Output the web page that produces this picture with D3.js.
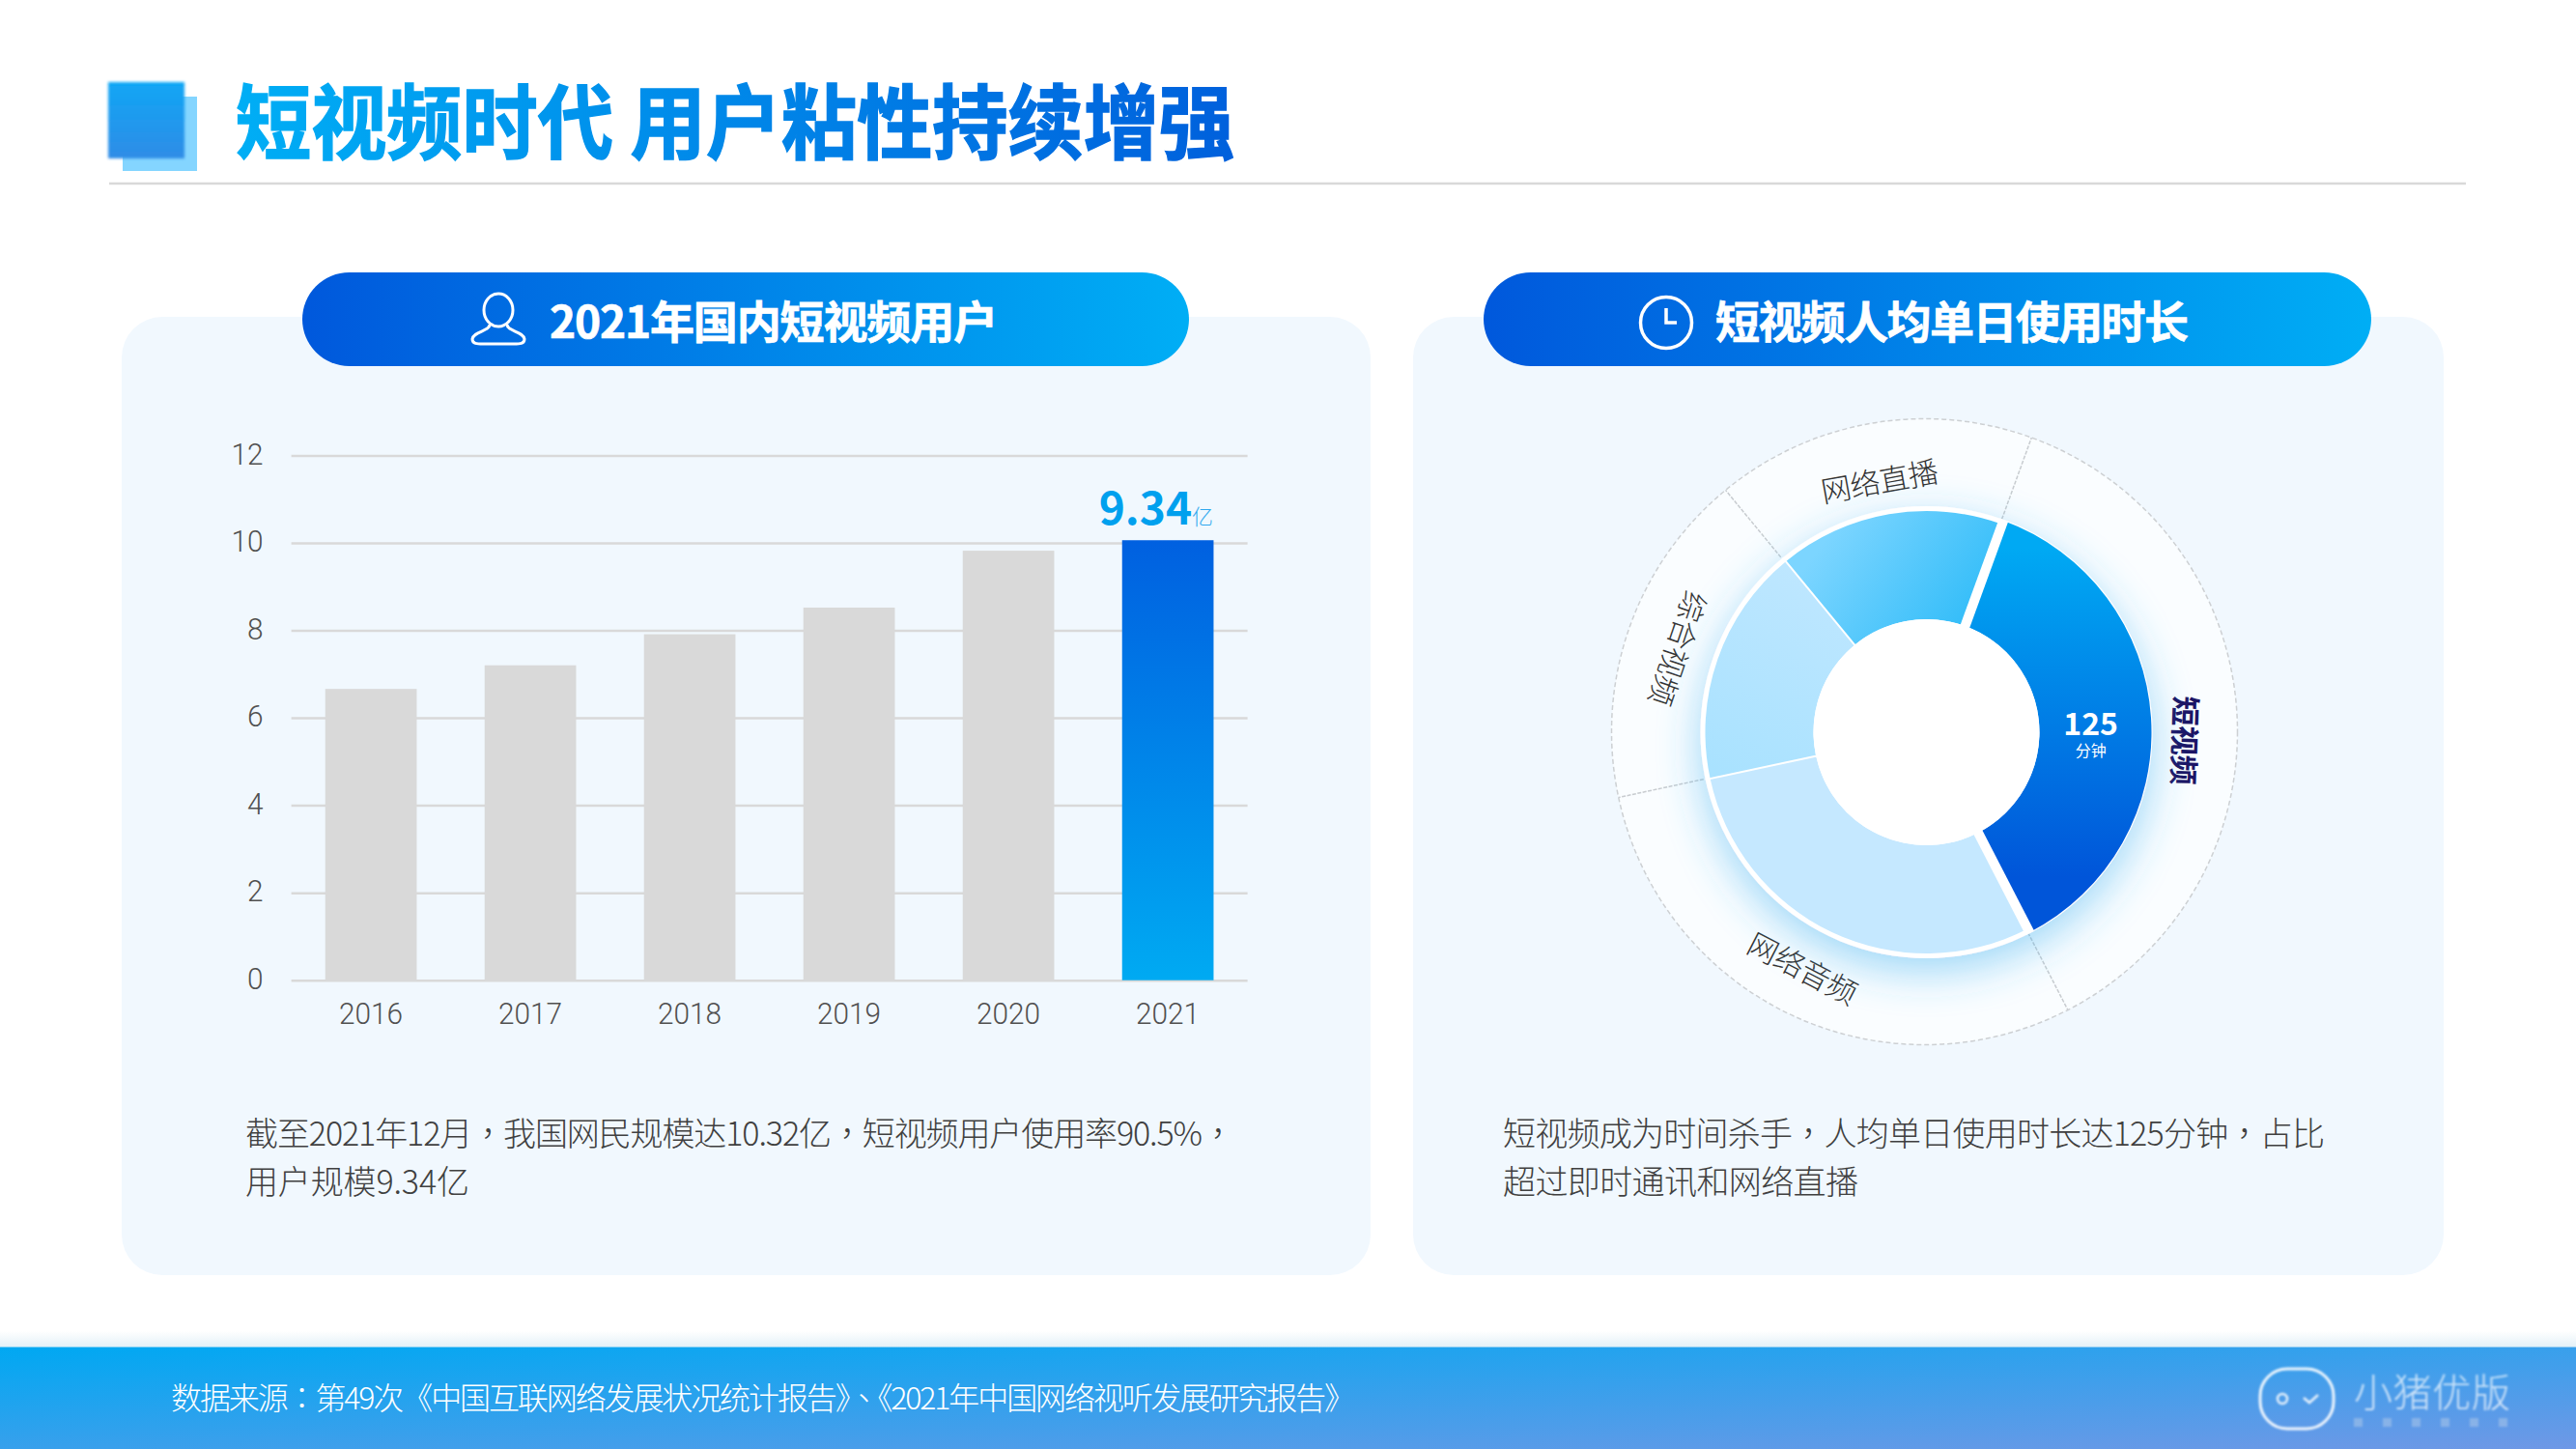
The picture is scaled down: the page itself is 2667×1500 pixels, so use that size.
<!DOCTYPE html>
<html>
<head>
<meta charset="utf-8">
<script src="https://cdn.jsdelivr.net/npm/d3@7/dist/d3.min.js"></script>
<style>
  html, body { margin: 0; padding: 0; background: #fff; }
  text { font-family: "Noto Sans CJK SC", "Noto Sans", sans-serif; }
</style>
</head>
<body>
<div id="plot"></div>
<script>
// bar chart data
const years = ["2016", "2017", "2018", "2019", "2020", "2021"];
const users = [6.66, 7.2, 7.91, 8.52, 9.82, 10.06];
const yTicks = [0, 2, 4, 6, 8, 10, 12];

const platforms = ["短视频", "网络音频", "综合视频", "网络直播"];
const minutes = [125, 99, 59, 56];

const width = 2667;
const height = 1500;
const rad = Math.PI / 180;

const svg = d3.select("#plot")
  .append("svg")
  .attr("width", width)
  .attr("height", height)
  .style("display", "block");

const defs = svg.append("defs");

function gradient(id, x1, y1, x2, y2, from, to, userSpace) {
  const g = defs.append("linearGradient")
    .attr("id", id)
    .attr("x1", x1).attr("y1", y1)
    .attr("x2", x2).attr("y2", y2);
  if (userSpace) g.attr("gradientUnits", "userSpaceOnUse");
  g.append("stop").attr("offset", 0).attr("stop-color", from);
  g.append("stop").attr("offset", 1).attr("stop-color", to);
}

gradient("titleFill", 246, 90, 1278, 165, "#00aef5", "#0060dc", true);
gradient("pillFill", 0, 0, 1, 0, "#0058dc", "#00aef5");
gradient("footFill", 0, 0, 1, 1, "#00a8f2", "#6f98e6");
gradient("footGlow", 0, 0, 0, 1, "#ffffff", "#e2f0f7");
gradient("barFill", 0, 0, 0, 1, "#0060e0", "#00aaf2");
gradient("squareFill", 0, 0, 0, 1, "#10a6f5", "#2f8ce6");
gradient("sliceShort", 60, -190, 60, 150, "#00a9f3", "#0055d9", true);
gradient("sliceGeneral", -40, -200, -180, 60, "#c4e8ff", "#a9e2ff", true);
gradient("sliceLive", -90, -220, 60, -110, "#7cd5ff", "#2dbbf8", true);

const glow = defs.append("filter")
  .attr("id", "donutGlow")
  .attr("x", "-30%").attr("y", "-30%")
  .attr("width", "160%").attr("height", "160%");
glow.append("feDropShadow")
  .attr("dx", 0).attr("dy", 14)
  .attr("stdDeviation", 22)
  .attr("flood-color", "#38aef0")
  .attr("flood-opacity", 0.48);

const soft = defs.append("filter").attr("id", "soft")
  .attr("x", "-20%").attr("y", "-20%").attr("width", "140%").attr("height", "140%");
soft.append("feGaussianBlur").attr("stdDeviation", 1.6);

const softer = defs.append("filter").attr("id", "softer")
  .attr("x", "-40%").attr("y", "-40%").attr("width", "180%").attr("height", "180%");
softer.append("feGaussianBlur").attr("stdDeviation", 0.9);

// the reference sets its punctuation centred in the cell, the TC face does that
function withPunctuation(sel, str) {
  str.split(/([，：、])/).filter(s => s).forEach(s => {
    const t = sel.append("tspan").text(s);
    if ("，：、".includes(s)) t.style("font-family", '"Noto Sans CJK TC"');
  });
}

// header
svg.append("rect").attr("x", 127).attr("y", 100).attr("width", 77).attr("height", 77)
  .attr("fill", "#84d5ff");
svg.append("rect").attr("x", 112).attr("y", 85).attr("width", 79).attr("height", 79)
  .attr("fill", "url(#squareFill)").attr("filter", "url(#soft)");
svg.append("text")
  .attr("x", 244).attr("y", 158)
  .attr("font-size", 84).attr("font-weight", 700)
  .attr("fill", "url(#titleFill)")
  .attr("stroke", "url(#titleFill)").attr("stroke-width", 1.5)
  .attr("textLength", 1034).attr("lengthAdjust", "spacingAndGlyphs")
  .text("短视频时代 用户粘性持续增强");
svg.append("line")
  .attr("x1", 113).attr("x2", 2553)
  .attr("y1", 190).attr("y2", 190)
  .attr("stroke", "#d9d9d9").attr("stroke-width", 2.5);

// cards and their title pills
const cards = [
  { x: 126, w: 1293, px: 313, pw: 918, label: "2021年国内短视频用户", tx: 569, tl: 464 },
  { x: 1463, w: 1067, px: 1536, pw: 919, label: "短视频人均单日使用时长", tx: 1776, tl: 490 }
];
cards.forEach(c => {
  svg.append("rect").attr("x", c.x).attr("y", 328).attr("width", c.w).attr("height", 992)
    .attr("rx", 42).attr("fill", "#f1f8fe");
  svg.append("rect").attr("x", c.px).attr("y", 282).attr("width", c.pw).attr("height", 97)
    .attr("rx", 48.5).attr("fill", "url(#pillFill)");
  svg.append("text")
    .attr("x", c.tx).attr("y", 350)
    .attr("font-size", 46).attr("font-weight", 700)
    .attr("fill", "#fff").attr("stroke", "#fff").attr("stroke-width", 0.7)
    .attr("textLength", c.tl).attr("lengthAdjust", "spacing")
    .text(c.label);
});

// pill icons
const person = svg.append("g")
  .attr("fill", "none").attr("stroke", "#fff").attr("stroke-width", 3);
person.append("ellipse").attr("cx", 516).attr("cy", 321).attr("rx", 15).attr("ry", 17);
person.append("path")
  .attr("d", "M507,336 C507,343 490,343 489,351 C489,356 494,356 500,356 L532,356 C538,356 543,356 543,351 C542,343 525,343 525,336");
const clock = svg.append("g")
  .attr("fill", "none").attr("stroke", "#fff").attr("stroke-width", 3.5);
clock.append("circle").attr("cx", 1725).attr("cy", 334).attr("r", 26.5);
clock.append("path").attr("d", "M1725,319 L1725,334 L1736,334");

// bar chart
const x = d3.scaleBand().domain(years).range([301.6, 1291.6]).paddingInner(0.426).paddingOuter(0.213);
const y = d3.scaleLinear().domain([0, 12]).range([1014.7, 471.4]);

const grid = svg.append("g")
  .attr("transform", "translate(301.6,0)")
  .call(d3.axisLeft(y).tickValues(yTicks).tickSize(-990).tickPadding(29));
grid.select(".domain").remove();
grid.selectAll(".tick line").attr("stroke", "#d9d9d9").attr("stroke-width", 2.5);
grid.selectAll(".tick text")
  .style("font-family", "Roboto")
  .attr("font-size", 32).attr("font-weight", 300)
  .attr("fill", "#505050")
  .attr("dy", "0.27em")
  .attr("textLength", d => String(d).length * 16.5)
  .attr("lengthAdjust", "spacingAndGlyphs");

svg.append("g")
  .selectAll("rect")
  .data(years)
  .enter()
  .append("rect")
  .attr("x", d => x(d))
  .attr("y", (d, i) => y(users[i]))
  .attr("width", x.bandwidth())
  .attr("height", (d, i) => y(0) - y(users[i]))
  .attr("fill", d => d === "2021" ? "url(#barFill)" : "#d9d9d9");

const xAxis = svg.append("g")
  .attr("transform", `translate(0,${y(0)})`)
  .call(d3.axisBottom(x).tickSize(0).tickPadding(23));
xAxis.select(".domain").remove();
xAxis.selectAll(".tick text")
  .style("font-family", "Roboto")
  .attr("font-size", 32).attr("font-weight", 300)
  .attr("fill", "#505050")
  .attr("textLength", 66)
  .attr("lengthAdjust", "spacingAndGlyphs");

const lastX = x("2021");
const callout = svg.append("text")
  .attr("x", lastX - 24).attr("y", 543)
  .attr("fill", "#00a0ee");
callout.append("tspan").attr("font-size", 46).attr("font-weight", 700).text("9.34");
callout.append("tspan").attr("font-size", 22).attr("font-weight", 300).attr("fill", "#30a8ee").text("亿");

// donut ring
const ringX = 1992.5;
const donutX = 1994.5;
const donutY = 758;
const ringR = 324;
const whiteR = 234;
const sliceR = 229;
const shortR = 233;
const holeR = 117;

const pie = d3.pie().sort(null).value(d => d.v)
  .startAngle(20 * rad).endAngle(380 * rad);
const slices = pie(platforms.map((p, i) => ({ p, v: minutes[i] })));

const ring = svg.append("g").attr("transform", `translate(${ringX},${donutY - 0.5})`);
ring.append("circle").attr("r", ringR)
  .attr("fill", "#fafdff")
  .attr("stroke", "#cdd0d3").attr("stroke-width", 1.5).attr("stroke-dasharray", "5 3");
ring.selectAll("line")
  .data(slices)
  .enter()
  .append("line")
  .attr("x1", d => whiteR * Math.sin(d.startAngle))
  .attr("y1", d => -whiteR * Math.cos(d.startAngle))
  .attr("x2", d => ringR * Math.sin(d.startAngle))
  .attr("y2", d => -ringR * Math.cos(d.startAngle))
  .attr("stroke", "#c8ccd0").attr("stroke-width", 1.5).attr("stroke-dasharray", "4 1.5");

const donut = svg.append("g").attr("transform", `translate(${donutX},${donutY})`);
donut.append("circle").attr("r", whiteR).attr("fill", "#fff").attr("filter", "url(#donutGlow)");

const sliceFill = d3.scaleOrdinal()
  .domain(platforms)
  .range(["url(#sliceShort)", "#c5e8ff", "url(#sliceGeneral)", "url(#sliceLive)"]);
const arc = d3.arc().innerRadius(holeR)
  .outerRadius(d => d.data.p === "短视频" ? shortR : sliceR);

donut.selectAll("path.slice")
  .data(slices)
  .enter()
  .append("path")
  .attr("class", "slice")
  .attr("d", arc)
  .attr("fill", d => sliceFill(d.data.p));

// white gaps: wide either side of the highlighted slice, hairline elsewhere
donut.selectAll("line.gap")
  .data(slices)
  .enter()
  .append("line")
  .attr("class", "gap")
  .attr("x1", d => (holeR - 2) * Math.sin(d.startAngle))
  .attr("y1", d => -(holeR - 2) * Math.cos(d.startAngle))
  .attr("x2", d => whiteR * Math.sin(d.startAngle))
  .attr("y2", d => -whiteR * Math.cos(d.startAngle))
  .attr("stroke", "#fff")
  .attr("stroke-width", (d, i) => (i === 0 || i === 1) ? 10 : 2);

donut.append("circle").attr("r", holeR).attr("fill", "#fff");

// value inside the highlighted slice
const valuePos = d3.arc().innerRadius(holeR).outerRadius(224).centroid(slices[0]);
donut.append("text")
  .attr("x", valuePos[0]).attr("y", valuePos[1] + 14)
  .attr("text-anchor", "middle")
  .attr("font-size", 32).attr("font-weight", 700)
  .attr("fill", "#fff")
  .text(minutes[0]);
donut.append("text")
  .attr("x", valuePos[0]).attr("y", valuePos[1] + 36)
  .attr("text-anchor", "middle")
  .attr("font-size", 16).attr("font-weight", 400)
  .attr("fill", "#fff")
  .text("分钟");

// ring labels: text follows the circle, flipped on the lower left side
const labelShift = { "短视频": 5.5, "网络音频": 2, "综合视频": -0.5, "网络直播": -0.5 };
const labelR = { "短视频": 269, "网络音频": 276, "综合视频": 270, "网络直播": 263 };
ring.selectAll("text")
  .data(slices)
  .enter()
  .append("text")
  .attr("transform", d => {
    const a = (d.startAngle + d.endAngle) / 2 / rad + labelShift[d.data.p];
    const r = labelR[d.data.p];
    const turn = (a > 120 && a < 300) ? a - 180 : a;
    return `translate(${r * Math.sin(a * rad)},${-r * Math.cos(a * rad)}) rotate(${turn})`;
  })
  .attr("text-anchor", "middle")
  .attr("dy", "0.36em")
  .attr("font-size", 31)
  .attr("letter-spacing", -0.5)
  .attr("font-weight", d => d.data.p === "短视频" ? 700 : 300)
  .attr("fill", d => d.data.p === "短视频" ? "#1c1464" : "#333")
  .text(d => d.data.p);

// captions
const captions = [
  { x: 254, y: 1186, w: 1024, t: "截至2021年12月，我国网民规模达10.32亿，短视频用户使用率90.5%，" },
  { x: 254, y: 1236, w: 232, t: "用户规模9.34亿" },
  { x: 1556, y: 1186, w: 851, t: "短视频成为时间杀手，人均单日使用时长达125分钟，占比" },
  { x: 1556, y: 1236, w: 368, t: "超过即时通讯和网络直播" }
];
captions.forEach(d => {
  const t = svg.append("text")
    .attr("x", d.x).attr("y", d.y)
    .attr("font-size", 34).attr("font-weight", 300)
    .attr("fill", "#404040")
    .attr("textLength", d.w).attr("lengthAdjust", "spacing");
  withPunctuation(t, d.t);
});

// footer
svg.append("rect").attr("x", 0).attr("y", 1378).attr("width", width).attr("height", 17)
  .attr("fill", "url(#footGlow)");
svg.append("rect").attr("x", 0).attr("y", 1394.5).attr("width", width).attr("height", 105.5)
  .attr("fill", "url(#footFill)");
const source = svg.append("text")
  .attr("x", 177).attr("y", 1459)
  .attr("font-size", 32).attr("font-weight", 300)
  .attr("fill", "#fff")
  .attr("textLength", 1226).attr("lengthAdjust", "spacing");
withPunctuation(source, "数据来源：第49次《中国互联网络发展状况统计报告》、《2021年中国网络视听发展研究报告》");

// logo
const logo = svg.append("g").attr("filter", "url(#softer)");
logo.append("rect").attr("x", 2340).attr("y", 1417).attr("width", 76).attr("height", 62)
  .attr("rx", 28).attr("fill", "none").attr("stroke", "#fff").attr("stroke-width", 3).attr("stroke-opacity", 0.9);
logo.append("circle").attr("cx", 2363).attr("cy", 1448).attr("r", 5)
  .attr("fill", "none").attr("stroke", "#fff").attr("stroke-width", 2.5).attr("stroke-opacity", 0.85);
logo.append("path").attr("d", "M2385,1447 L2391,1452 L2400,1444")
  .attr("fill", "none").attr("stroke", "#fff").attr("stroke-width", 2.5).attr("stroke-opacity", 0.85);
logo.append("text")
  .attr("x", 2437).attr("y", 1456)
  .attr("font-size", 40).attr("font-weight", 300)
  .attr("fill", "#fff").attr("fill-opacity", 0.72)
  .attr("textLength", 162).attr("lengthAdjust", "spacing")
  .text("小猪优版");
// the tiny line under the logo name is too blurred to read, so just faint marks
logo.selectAll("rect.mark")
  .data(d3.range(6))
  .enter()
  .append("rect")
  .attr("class", "mark")
  .attr("x", i => 2437 + i * 30)
  .attr("y", 1468)
  .attr("width", 9).attr("height", 9)
  .attr("fill", "#c8d8e8").attr("fill-opacity", 0.4);
</script>
</body>
</html>
